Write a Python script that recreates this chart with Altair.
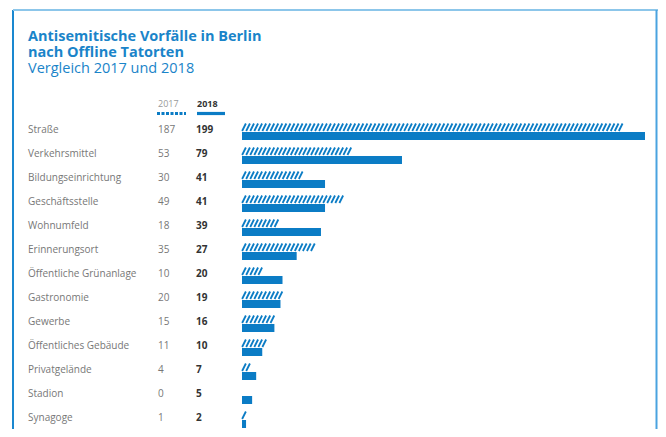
import altair as alt
import pandas as pd
import numpy as np

categories = ["Straße", "Verkehrsmittel", "Bildungseinrichtung", "Geschäftsstelle",
              "Wohnumfeld", "Erinnerungsort", "Öffentliche Grünanlage", "Gastronomie",
              "Gewerbe", "Öffentliches Gebäude", "Privatgelände", "Stadion", "Synagoge"]
v2017 = [187, 53, 30, 49, 18, 35, 10, 20, 15, 11, 4, 0, 1]
v2018 = [199, 79, 41, 41, 39, 27, 20, 19, 16, 10, 7, 5, 2]

title1 = "Antisemitische Vorfälle in Berlin"
title2 = "nach Offline Tatorten"
subtitle = "Vergleich 2017 und 2018"
legend_labels = ["2017", "2018"]

BLUE = "#0b7cc5"
TITLE_BLUE = "#1a84c9"
GRAY = "#777777"
DARK = "#333333"
FONT = "Open Sans"

df = pd.DataFrame({"cat": categories, "row": list(range(len(categories))),
                   "v17": v2017, "v18": v2018})
df["zero"] = 0

# hatch texture for the 2017 bars: one slash every 2 units along each bar
hatch_rows = []
for i, v in enumerate(v2017):
    for p in np.arange(1, v + 0.5, 2):
        hatch_rows.append({"row": i, "x": float(p)})
hatch = pd.DataFrame(hatch_rows)

xscale = alt.Scale(domain=[0, 199], nice=False, zero=True)
yscale = alt.Scale(domain=[0, 12], range=[12, 300])

X = lambda f: alt.X(f, scale=xscale, axis=None)
Y = alt.Y("row:Q", scale=yscale, axis=None)

bars18 = alt.Chart(df).mark_rule(strokeWidth=8, color=BLUE, yOffset=7, strokeCap="butt").encode(
    x=X("zero:Q"), x2="v18:Q", y=Y)

slashes17 = alt.Chart(hatch).mark_point(
    shape="M-0.5,1L0.5,-1", size=56, strokeWidth=1.8, color=BLUE, filled=False,
    opacity=1, yOffset=-1.75, strokeCap="butt").encode(x=X("x:Q"), y=Y)

labels = alt.Chart(df).mark_text(align="left", baseline="alphabetic", dy=3.5, font=FONT,
                                 fontSize=10, color=GRAY).encode(
    x=alt.value(-214), y=Y, text="cat:N")
vals17 = alt.Chart(df).mark_text(align="left", baseline="alphabetic", dy=3.5, font=FONT,
                                 fontSize=10, color=GRAY).encode(
    x=alt.value(-84), y=Y, text="v17:Q")
vals18 = alt.Chart(df).mark_text(align="left", baseline="alphabetic", dy=3.5, font=FONT,
                                 fontSize=10, fontWeight="bold", color=DARK).encode(
    x=alt.value(-46), y=Y, text="v18:Q")


def one(text):
    return alt.Chart(pd.DataFrame({"t": [text]}))


t1 = one(title1).mark_text(align="left", baseline="alphabetic", font=FONT, fontSize=14.5,
                           fontWeight="bold", color=TITLE_BLUE).encode(
    text="t:N", x=alt.value(-214), y=alt.value(-76))
t2 = one(title2).mark_text(align="left", baseline="alphabetic", font=FONT, fontSize=14.5,
                           fontWeight="bold", color=TITLE_BLUE).encode(
    text="t:N", x=alt.value(-214), y=alt.value(-60))
t3 = one(subtitle).mark_text(align="left", baseline="alphabetic", font=FONT, fontSize=14.5,
                             color=TITLE_BLUE).encode(
    text="t:N", x=alt.value(-214), y=alt.value(-44))

leg17 = one(legend_labels[0]).mark_text(align="left", baseline="alphabetic", font=FONT,
                                        fontSize=9, color="#999999").encode(
    text="t:N", x=alt.value(-84), y=alt.value(-10.5))
leg18 = one(legend_labels[1]).mark_text(align="left", baseline="alphabetic", font=FONT,
                                        fontSize=9, fontWeight="bold", color=DARK).encode(
    text="t:N", x=alt.value(-45), y=alt.value(-10.5))
leg17line = one("a").mark_rule(strokeWidth=3, color=BLUE, strokeDash=[3, 1.5]).encode(
    x=alt.value(-85), x2=alt.value(-56), y=alt.value(-3.5))
leg18line = one("a").mark_rule(strokeWidth=3.2, color=BLUE).encode(
    x=alt.value(-45), x2=alt.value(-17), y=alt.value(-3.5))

frame_left = one("a").mark_rule(strokeWidth=2, color="#1a88d0").encode(
    x=alt.value(-229), y=alt.value(-107), y2=alt.value(330))
frame_top = one("a").mark_rule(strokeWidth=2, color="#8cc6ea").encode(
    x=alt.value(-229), x2=alt.value(416), y=alt.value(-107))
frame_right = one("a").mark_rule(strokeWidth=2, color="#4aa3e0").encode(
    x=alt.value(414.5), y=alt.value(-107), y2=alt.value(330))

chart = alt.layer(
    frame_left, frame_top, frame_right,
    t1, t2, t3, leg17, leg18, leg17line, leg18line,
    bars18, slashes17, labels, vals17, vals18
).properties(
    width=403, height=304,
    padding={"left": 234, "top": 109, "right": 13, "bottom": 8},
    autosize=alt.AutoSizeParams(type="none"),
    background="white",
).configure_view(stroke=None)

chart.save("out.html", embed_options={"renderer": "svg", "actions": False})
